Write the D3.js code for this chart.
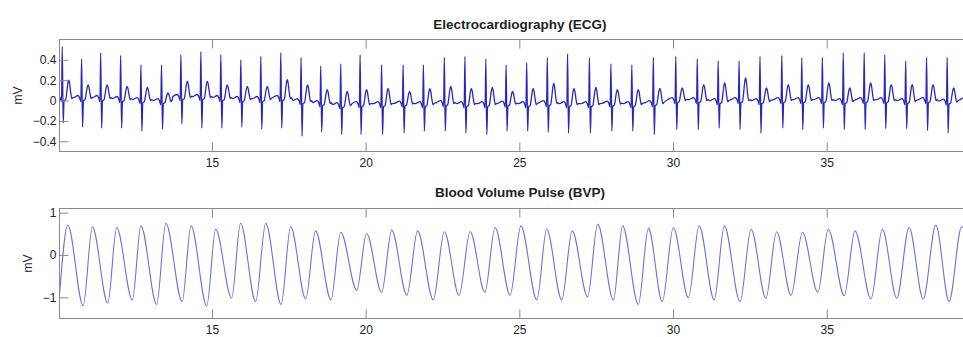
<!DOCTYPE html>
<html>
<head>
<meta charset="utf-8">
<script src="https://cdn.jsdelivr.net/npm/d3@7"></script>
<style>
  html, body { margin: 0; padding: 0; background: #fff; }
  svg { display: block; }
  text { font-family: "Liberation Sans", Arial, Helvetica, sans-serif; }
</style>
</head>
<body>
<svg id="chart" width="963" height="337"></svg>
<script>
// ---------------- DATA ----------------
const xTicks = [15, 20, 25, 30, 35];
const ecgTicks = [-0.4, -0.2, 0, 0.2, 0.4];
const bvpTicks = [-1, 0, 1];

// ECG: R-peak times (s) and per-beat amplitudes (mV)
const ecgBeatTimes = [10.13,10.76,11.38,12.03,12.69,13.36,13.99,14.64,15.29,15.94,16.59,17.24,17.90,18.54,19.19,
  19.82,20.52,21.22,21.88,22.56,23.23,23.91,24.57,25.24,25.91,26.57,27.28,27.98,28.66,29.36,
  30.09,30.79,31.47,32.15,32.83,33.54,34.19,34.86,35.54,36.22,36.89,37.57,38.25,38.92,39.60];
const ecgR = [0.53,0.41,0.47,0.445,0.35,0.35,0.45,0.48,0.45,0.40,0.435,0.47,0.425,0.34,0.36,
  0.45,0.35,0.35,0.35,0.425,0.435,0.41,0.35,0.37,0.425,0.46,0.42,0.36,0.35,0.425,
  0.435,0.41,0.39,0.39,0.435,0.445,0.42,0.425,0.47,0.47,0.45,0.39,0.425,0.425,0.43];
const ecgS = [-0.22,-0.26,-0.27,-0.27,-0.30,-0.28,-0.23,-0.27,-0.27,-0.26,-0.28,-0.27,-0.35,-0.31,-0.335,
  -0.335,-0.335,-0.32,-0.30,-0.30,-0.32,-0.335,-0.30,-0.30,-0.31,-0.32,-0.32,-0.30,-0.30,-0.335,
  -0.285,-0.285,-0.27,-0.285,-0.32,-0.27,-0.285,-0.27,-0.285,-0.285,-0.275,-0.275,-0.295,-0.32,-0.29];
const ecgT = [0.20,0.155,0.155,0.14,0.13,0.075,0.19,0.19,0.155,0.14,0.14,0.205,0.155,0.107,0.09,
  0.107,0.12,0.09,0.12,0.14,0.12,0.13,0.09,0.12,0.17,0.12,0.13,0.107,0.107,0.12,
  0.124,0.156,0.173,0.222,0.124,0.156,0.156,0.173,0.124,0.173,0.156,0.156,0.156,0.124,0.13];
const ecgBase = [0.03,0.03,0.03,0.02,0.01,0.0,0.04,0.04,0.03,0.02,0.02,0.03,0.0,-0.02,-0.04,
  -0.03,-0.03,-0.025,-0.03,-0.02,-0.03,-0.03,-0.025,-0.03,-0.02,-0.03,-0.03,-0.025,-0.03,-0.02,
  0.01,0.01,0.0,0.01,0.0,0.01,0.01,0.01,0.0,0.01,0.01,0.0,0.01,-0.005,0.01];
// one beat's shape: [time offset from R (s), component, weight]
const ecgShape = [
  [-0.26,'b',0],[-0.12,'b',0.02],[-0.07,'b',0],[-0.025,'b',-0.04],
  [0,'R',1],[0.03,'S',1],[0.06,'b',-0.03],[0.11,'b',-0.02],
  [0.15,'T',0.35],[0.18,'T',0.8],[0.21,'T',1],[0.24,'T',0.8],[0.27,'T',0.35],
  [0.31,'b',-0.01],[0.34,'b',0]
];

// BVP: successive extrema (start, peaks and troughs)
const bvpTimes = [10.04,10.31,10.81,11.11,11.61,11.90,12.41,12.69,13.20,13.50,14.03,14.32,14.83,15.12,15.64,
  15.93,16.42,16.75,17.25,17.56,18.05,18.37,18.87,19.19,19.71,20.03,20.52,20.85,21.34,21.69,22.20,
  22.56,23.04,23.40,23.88,24.21,24.70,25.05,25.57,25.89,26.38,26.72,27.22,27.55,28.06,28.36,28.87,
  29.20,29.65,30.01,30.50,30.85,31.34,31.67,32.18,32.54,33.02,33.37,33.84,34.21,34.71,35.05,35.57,
  35.92,36.44,36.81,37.28,37.68,38.14,38.55,38.98,39.39,39.86];
const bvpValues = [-0.95,0.71,-1.20,0.67,-1.14,0.65,-1.06,0.69,-1.17,0.75,-1.10,0.69,-1.20,0.61,-1.02,
  0.75,-1.10,0.75,-1.17,0.67,-1.04,0.57,-1.06,0.54,-0.83,0.51,-0.88,0.59,-0.95,0.57,-1.06,
  0.55,-0.95,0.55,-0.88,0.65,-0.95,0.69,-1.06,0.61,-1.06,0.57,-0.99,0.73,-1.06,0.69,-1.17,
  0.63,-1.10,0.65,-1.01,0.69,-1.06,0.69,-1.10,0.61,-1.02,0.55,-0.95,0.54,-0.88,0.61,-0.96,
  0.57,-1.04,0.61,-1.02,0.65,-1.04,0.71,-1.10,0.67,-1.00];

// ---------------- DRAWING ----------------
const svg = d3.select('#chart');
const xDomain = [10.04, 40];
const xRange = [59.5, 980.4];
const x = d3.scaleLinear().domain(xDomain).range(xRange);

const axisColor = '#8a8a8a';
const labelColor = '#222';

function ecgPoints() {
  const pts = [];
  ecgBeatTimes.forEach((t0, i) => {
    const b = ecgBase[i];
    ecgShape.forEach(([dt, kind, w]) => {
      let v;
      if (kind === 'R') v = ecgR[i];
      else if (kind === 'S') v = ecgS[i];
      else if (kind === 'T') v = b + w * (ecgT[i] - b);
      else v = b + w;
      pts.push([t0 + dt, v]);
    });
  });
  pts.sort((a, b) => a[0] - b[0]);
  return pts;
}
const bvpPoints = bvpTimes.map((t, i) => [t, bvpValues[i]]);

const panels = [
  { id: 'ecg', title: 'Electrocardiography (ECG)', top: 39.5, bottom: 151.5, domain: [-0.5, 0.6],
    ticks: ecgTicks, fmt: d => d === 0 ? '0' : d3.format('.1f')(d), data: ecgPoints(),
    color: '#2828bc', width: 1.3, titleY: 29, ylabelX: 22 },
  { id: 'bvp', title: 'Blood Volume Pulse (BVP)', top: 208.5, bottom: 318.5, domain: [-1.5, 1.1],
    ticks: bvpTicks, fmt: d3.format('d'), data: bvpPoints,
    color: '#6e6ee0', width: 1.1, titleY: 196.5, ylabelX: 31.5 }
];

panels.forEach(p => {
  const y = d3.scaleLinear().domain(p.domain).range([p.bottom, p.top]);
  const g = svg.append('g');

  g.append('clipPath').attr('id', 'clip-' + p.id)
    .append('rect')
    .attr('x', xRange[0]).attr('y', p.top)
    .attr('width', xRange[1] - xRange[0]).attr('height', p.bottom - p.top);

  const line = d3.line()
    .x(d => x(d[0])).y(d => y(d[1]))
    .curve(d3.curveMonotoneX);
  g.append('path')
    .datum(p.data)
    .attr('clip-path', `url(#clip-${p.id})`)
    .attr('fill', 'none')
    .attr('stroke', p.color)
    .attr('stroke-width', p.width)
    .attr('stroke-linejoin', 'round')
    .attr('d', line);

  const bottomAxis = g.append('g')
    .attr('transform', `translate(0,${p.bottom})`)
    .call(d3.axisBottom(x).tickValues(xTicks).tickSize(-9).tickPadding(7).tickFormat(d3.format('d')));
  const topAxis = g.append('g')
    .attr('transform', `translate(0,${p.top})`)
    .call(d3.axisTop(x).tickValues(xTicks).tickSize(-9).tickFormat(''));
  const leftAxis = g.append('g')
    .attr('transform', `translate(${xRange[0]},0)`)
    .call(d3.axisLeft(y).tickValues(p.ticks).tickSize(-9).tickPadding(3).tickFormat(p.fmt));

  [bottomAxis, topAxis, leftAxis].forEach(a => {
    a.select('.domain').remove();
    a.selectAll('line').attr('stroke', axisColor);
    a.selectAll('text').attr('fill', labelColor).style('font-size', '12px');
  });

  g.append('rect')
    .attr('x', xRange[0]).attr('y', p.top)
    .attr('width', xRange[1] - xRange[0]).attr('height', p.bottom - p.top)
    .attr('fill', 'none').attr('stroke', axisColor).attr('stroke-width', 1);

  g.append('text')
    .attr('x', (xRange[0] + xRange[1]) / 2).attr('y', p.titleY)
    .attr('text-anchor', 'middle')
    .attr('fill', labelColor)
    .style('font-size', '13.5px').style('font-weight', 'bold')
    .text(p.title);

  g.append('text')
    .attr('transform', `translate(${p.ylabelX},${(p.top + p.bottom) / 2}) rotate(-90)`)
    .attr('text-anchor', 'middle')
    .attr('fill', labelColor)
    .style('font-size', '12px')
    .text('mV');
});
</script>
</body>
</html>
